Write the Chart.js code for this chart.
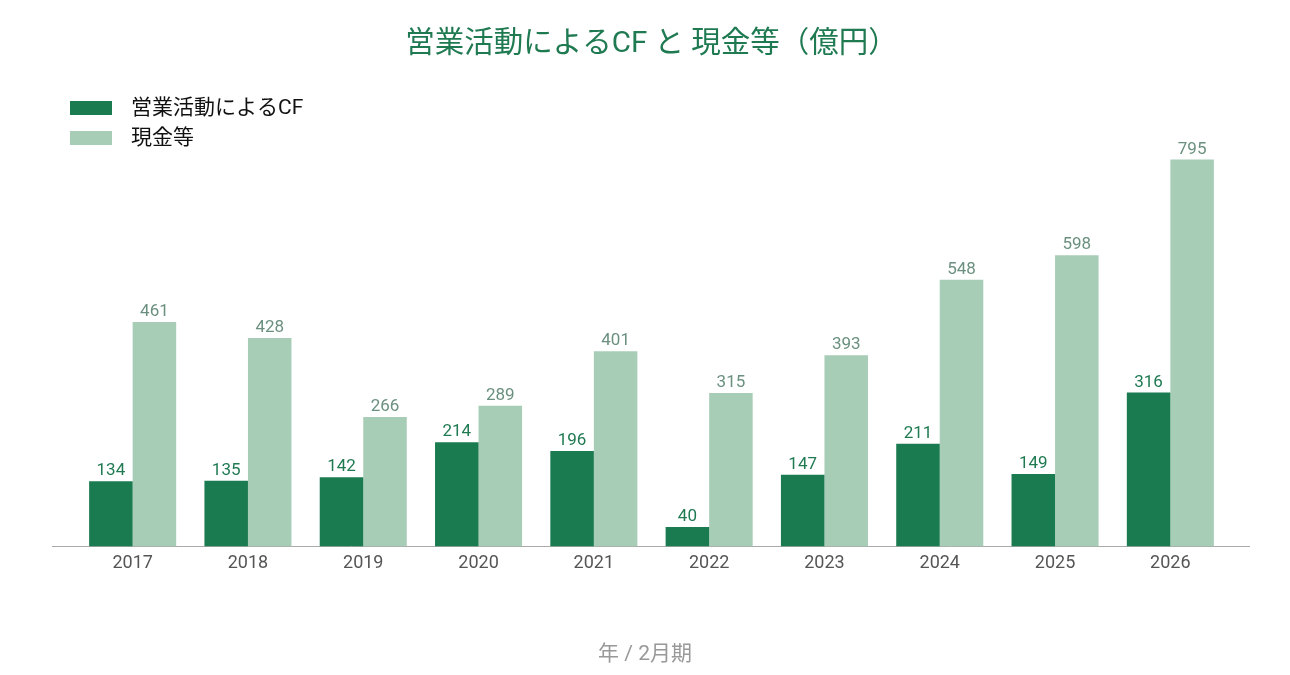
<!DOCTYPE html>
<html><head><meta charset="utf-8">
<script src="https://cdn.jsdelivr.net/npm/chart.js@4/dist/chart.umd.min.js"></script>
<style>html,body{margin:0;padding:0;background:#fff;}#wrap{width:1290px;height:675px;}</style>
</head><body><div id="wrap"><canvas id="c" width="1290" height="675"></canvas></div>
<script>
const categories = ['2017','2018','2019','2020','2021','2022','2023','2024','2025','2026'];
const operatingCF = [134,135,142,214,196,40,147,211,149,316];
const cashEtc = [461,428,266,289,401,315,393,548,598,795];
const seriesNames = ['営業活動によるCF','現金等'];
const titleText = '営業活動によるCF と 現金等（億円）';
const xTitleText = '年 / 2月期';

const FONT = 'Roboto, "Noto Sans CJK JP", sans-serif';
const DARK = '#1b7b50';
const LIGHT = '#a8cdb7';

const extras = {
  id: 'extras',
  beforeDatasetsDraw(chart) {
    const ctx = chart.ctx;
    const y = chart.scales.y.getPixelForValue(0);
    ctx.save();
    ctx.strokeStyle = '#aaaaaa';
    ctx.lineWidth = 1;
    ctx.beginPath();
    ctx.moveTo(52, Math.round(y) + 0.5);
    ctx.lineTo(1250, Math.round(y) + 0.5);
    ctx.stroke();
    ctx.restore();
  },
  afterDatasetsDraw(chart) {
    const ctx = chart.ctx;
    ctx.save();
    ctx.font = '17px ' + FONT;
    ctx.textAlign = 'center';
    ctx.textBaseline = 'alphabetic';
    const colors = ['#1f7a52', '#6b907f'];
    chart.data.datasets.forEach((ds, di) => {
      const meta = chart.getDatasetMeta(di);
      ctx.fillStyle = colors[di];
      meta.data.forEach((bar, i) => {
        ctx.fillText(String(ds.data[i]), bar.x, bar.y - 6);
      });
    });
    // legend
    const boxes = [DARK, LIGHT];
    ctx.textAlign = 'left';
    ctx.textBaseline = 'middle';
    ctx.font = '21px ' + FONT;
    seriesNames.forEach((n, i) => {
      const cy = 108 + i * 30;
      ctx.fillStyle = boxes[i];
      ctx.fillRect(70, cy - 7, 42, 14);
      ctx.fillStyle = '#111111';
      ctx.fillText(n, 131, cy + 1);
    });
    // x axis title
    ctx.textAlign = 'center';
    ctx.fillStyle = '#999999';
    ctx.font = '21px ' + FONT;
    ctx.fillText(xTitleText, 645, 655);
    ctx.restore();
  }
};

new Chart(document.getElementById('c'), {
  type: 'bar',
  data: {
    labels: categories,
    datasets: [
      { label: seriesNames[0], data: operatingCF, backgroundColor: DARK, barPercentage: 1, categoryPercentage: 0.755 },
      { label: seriesNames[1], data: cashEtc, backgroundColor: LIGHT, barPercentage: 1, categoryPercentage: 0.755 }
    ]
  },
  options: {
    responsive: false,
    animation: false,
    devicePixelRatio: 1,
    layout: { padding: { left: 75, right: 62, top: 0, bottom: 95 } },
    plugins: {
      legend: { display: false },
      tooltip: { enabled: false },
      title: {
        display: true,
        text: titleText,
        color: '#1f7a52',
        font: { family: FONT, size: 29.5, weight: 'normal' },
        padding: { top: 27, bottom: 46 }
      }
    },
    scales: {
      x: {
        grid: { display: false, drawTicks: false },
        border: { display: false },
        ticks: { color: '#555555', font: { family: FONT, size: 18 }, padding: 6 }
      },
      y: {
        display: false,
        min: 0,
        max: 900
      }
    }
  },
  plugins: [extras]
});
</script>
</body></html>
